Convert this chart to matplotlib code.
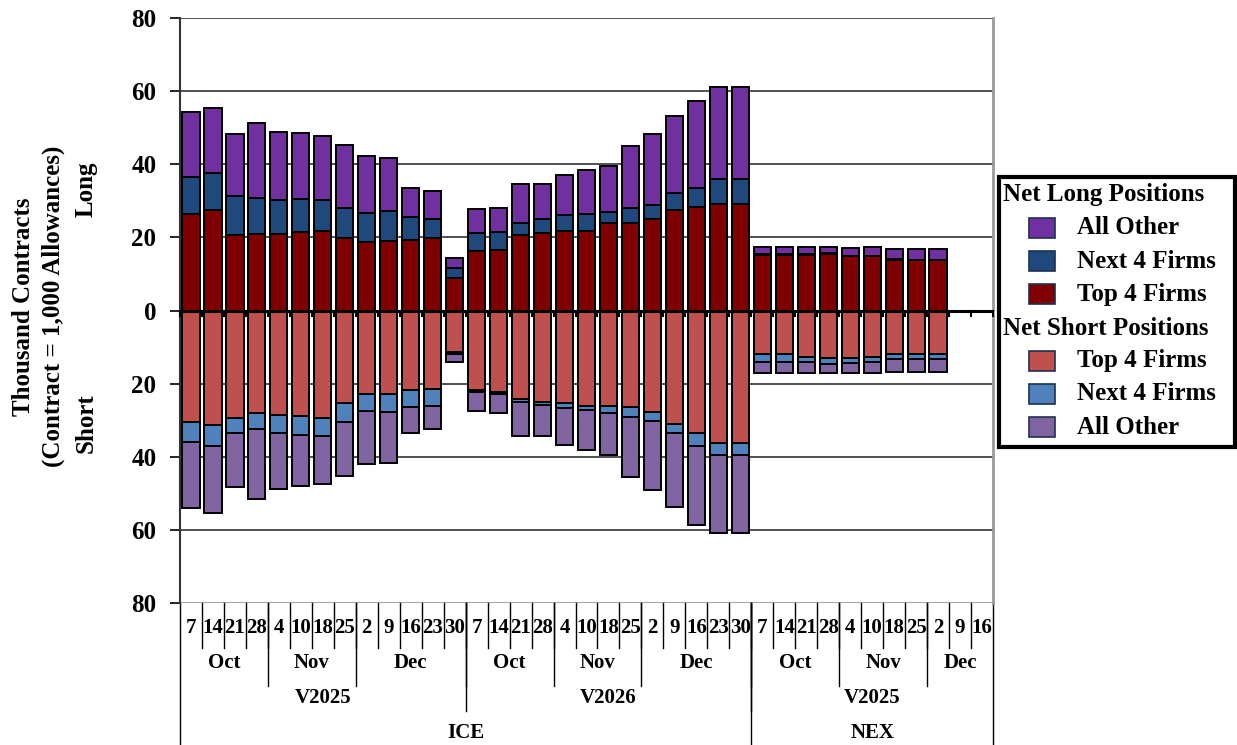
import matplotlib
matplotlib.use("Agg")
import matplotlib.pyplot as plt
import matplotlib.transforms as mtransforms
from matplotlib.patches import Rectangle
import numpy as np

plt.rcParams['font.family'] = ['Liberation Serif', 'DejaVu Serif']
plt.rcParams['font.weight'] = 'bold'

# categories
days = ['7', '14', '21', '28', '4', '10', '18', '25', '2', '9', '16', '23', '30',
        '7', '14', '21', '28', '4', '10', '18', '25', '2', '9', '16', '23', '30',
        '7', '14', '21', '28', '4', '10', '18', '25', '2', '9', '16']
months = [('Oct', 4), ('Nov', 4), ('Dec', 5),
          ('Oct', 4), ('Nov', 4), ('Dec', 5),
          ('Oct', 4), ('Nov', 4), ('Dec', 3)]
vintages = [('V2025', 13), ('V2026', 13), ('V2025', 11)]
venues = [('ICE', 26), ('NEX', 11)]

# net long (thousand contracts)
long_top4 = [26.5, 27.6, 20.6, 21.0, 21.0, 21.6, 21.8, 19.9, 18.8, 19.0, 19.3, 19.7, 8.9,
             16.4, 16.5, 20.7, 21.2, 21.8, 21.7, 24.0, 24.0, 24.9, 27.4, 28.2, 29.0, 29.0,
             15.2, 15.2, 15.2, 15.4, 14.8, 14.8, 13.9, 13.7, 13.7, 0, 0]
long_next4 = [10.0, 10.0, 10.7, 9.8, 9.1, 9.0, 8.5, 8.1, 8.0, 8.1, 6.2, 5.4, 2.7,
              4.7, 5.1, 3.3, 3.8, 4.2, 4.6, 3.0, 4.1, 3.9, 4.8, 5.2, 7.1, 7.1,
              0.2, 0.2, 0.2, 0.2, 0.2, 0.2, 0.2, 0.2, 0.2, 0, 0]
long_other = [17.7, 17.8, 17.1, 20.6, 18.6, 17.9, 17.3, 17.4, 15.5, 14.6, 8.1, 7.5, 2.7,
              6.6, 6.5, 10.6, 9.6, 11.0, 12.0, 12.5, 17.0, 19.5, 21.0, 23.8, 24.9, 24.9,
              2.0, 2.0, 1.9, 1.8, 2.1, 2.3, 2.6, 2.8, 2.8, 0, 0]

# net short (thousand contracts)
short_top4 = [30.4, 31.3, 29.5, 28.1, 28.7, 28.8, 29.5, 25.3, 22.8, 22.8, 21.8, 21.4, 11.3,
              21.7, 22.2, 24.3, 25.1, 25.4, 26.0, 26.0, 26.4, 27.7, 31.0, 33.5, 36.3, 36.3,
              12.0, 12.0, 12.6, 13.1, 12.9, 12.8, 12.0, 12.0, 12.0, 0, 0]
short_next4 = [5.7, 5.8, 4.1, 4.4, 4.7, 5.3, 4.8, 5.3, 4.6, 5.0, 4.6, 4.7, 0.5,
               0.6, 0.6, 0.6, 0.7, 1.4, 1.3, 2.1, 2.6, 2.6, 2.6, 3.5, 3.3, 3.3,
               2.2, 2.2, 1.6, 1.5, 1.4, 1.3, 1.4, 1.4, 1.4, 0, 0]
short_other = [17.8, 18.2, 14.7, 19.0, 15.3, 13.8, 13.1, 14.6, 14.7, 13.9, 7.0, 6.4, 2.3,
               5.3, 5.2, 9.5, 8.6, 10.0, 10.8, 11.3, 16.5, 18.7, 20.2, 21.6, 21.3, 21.3,
               3.0, 3.0, 3.0, 2.6, 2.9, 3.1, 3.3, 3.3, 3.3, 0, 0]

c_long = ['#800000', '#1F497D', '#7030A0']
c_short = ['#C0504D', '#4F81BD', '#8064A2']

n = len(days)
x = np.arange(n)
has = np.array(long_top4) + np.array(short_top4) > 0

fig = plt.figure(figsize=(12.37, 7.45), dpi=100)
ax = fig.add_axes([180 / 1237, 1 - 603 / 745, 813 / 1237, 585 / 745])

w = 0.78
bottom = np.zeros(n)
for vals, col in zip([long_top4, long_next4, long_other], c_long):
    v = np.array(vals)
    ax.bar(x[has], v[has], w, bottom=bottom[has], color=col, edgecolor='black', linewidth=1.4, zorder=3)
    bottom += v
bottom = np.zeros(n)
for vals, col in zip([short_top4, short_next4, short_other], c_short):
    v = -np.array(vals)
    ax.bar(x[has], v[has], w, bottom=bottom[has], color=col, edgecolor='black', linewidth=1.4, zorder=3)
    bottom += v

ax.set_xlim(-0.5, n - 0.5)
ax.set_ylim(-80, 80)
yt = [-80, -60, -40, -20, 0, 20, 40, 60, 80]
ax.set_yticks(yt)
ax.set_yticklabels([str(abs(t)) for t in yt], fontsize=18, fontweight='bold')
ax.tick_params(axis='y', direction='out', length=7, width=1.2, pad=10)
ax.set_xticks([])
for t in [-60, -40, -20, 20, 40, 60, 80]:
    ax.axhline(t, color='#222222', linewidth=1.1, zorder=1)
ax.axhline(0, color='black', linewidth=2.2, zorder=4)
for s in ['top', 'bottom']:
    ax.spines[s].set_visible(False)
ax.spines['left'].set_linewidth(1.5)
ax.spines['left'].set_color('#333333')
ax.spines['right'].set_color('#999999')
ax.spines['right'].set_linewidth(2)
ax.axhline(-80, color='#999999', linewidth=2, zorder=1)

# zero-line tick marks between categories
for b in np.arange(n + 1) - 0.5:
    ax.plot([b, b], [0, -1.5], color='black', linewidth=1.5, zorder=4, clip_on=False)

# multi-level category axis
tr = mtransforms.blended_transform_factory(ax.transData, ax.transAxes)
ax_h = 585.0
def fy(px):
    return -(px - 603) / ax_h

lc = 'black'
for i, d in enumerate(days):
    ax.text(i, fy(628), d, transform=tr, ha='center', va='center', fontsize=15, fontweight='bold')
for b in np.arange(1, n) - 0.5:
    ax.plot([b, b], [0, fy(648)], transform=tr, color=lc, linewidth=1, clip_on=False)

def group_labels(groups, ypx, ybot, fs):
    start = 0
    for name, cnt in groups:
        ax.text(start + cnt / 2 - 0.5, fy(ypx), name, transform=tr, ha='center', va='center',
                fontsize=fs, fontweight='bold')
        start += cnt
        if start < n:
            ax.plot([start - 0.5, start - 0.5], [0, fy(ybot)], transform=tr, color=lc,
                    linewidth=1, clip_on=False)

group_labels(months, 663, 686, 15)
group_labels(vintages, 698, 711, 15)
group_labels(venues, 733, 745, 15)
for b in [-0.5, n - 0.5]:
    ax.plot([b, b], [0, fy(745)], transform=tr, color=lc, linewidth=1, clip_on=False)

# y axis labels
fig.text(24 / 1237, 1 - 307 / 745, 'Thousand Contracts', rotation=90, ha='center', va='center',
         fontsize=18, fontweight='bold')
fig.text(53 / 1237, 1 - 306 / 745, '(Contract = 1,000 Allowances)', rotation=90, ha='center',
         va='center', fontsize=18, fontweight='bold')
fig.text(86 / 1237, 1 - 189 / 745, 'Long', rotation=90, ha='center', va='center',
         fontsize=18, fontweight='bold')
fig.text(86 / 1237, 1 - 423 / 745, 'Short', rotation=90, ha='center', va='center',
         fontsize=18, fontweight='bold')

# legend (drawn by hand)
W, H = 1237.0, 745.0
fig.patches.append(Rectangle((999 / W, 1 - 447 / H), 236 / W, 270 / H, transform=fig.transFigure,
                             fill=False, edgecolor='black', linewidth=3))
rows = [('Net Long Positions', None, 195), ('All Other', c_long[2], 228),
        ('Next 4 Firms', c_long[1], 261), ('Top 4 Firms', c_long[0], 294),
        ('Net Short Positions', None, 328), ('Top 4 Firms', c_short[0], 361),
        ('Next 4 Firms', c_short[1], 394), ('All Other', c_short[2], 427)]
for label, col, ypx in rows:
    if col is None:
        fig.text(1003 / W, 1 - ypx / H, label, ha='left', va='center', fontsize=18, fontweight='bold')
    else:
        fig.patches.append(Rectangle((1029 / W, 1 - (ypx + 10) / H), 26 / W, 20 / H,
                                     transform=fig.transFigure, facecolor=col,
                                     edgecolor='#1F3050', linewidth=1.2))
        fig.text(1077 / W, 1 - ypx / H, label, ha='left', va='center', fontsize=18, fontweight='bold')

fig.savefig('out.png', dpi=100)
